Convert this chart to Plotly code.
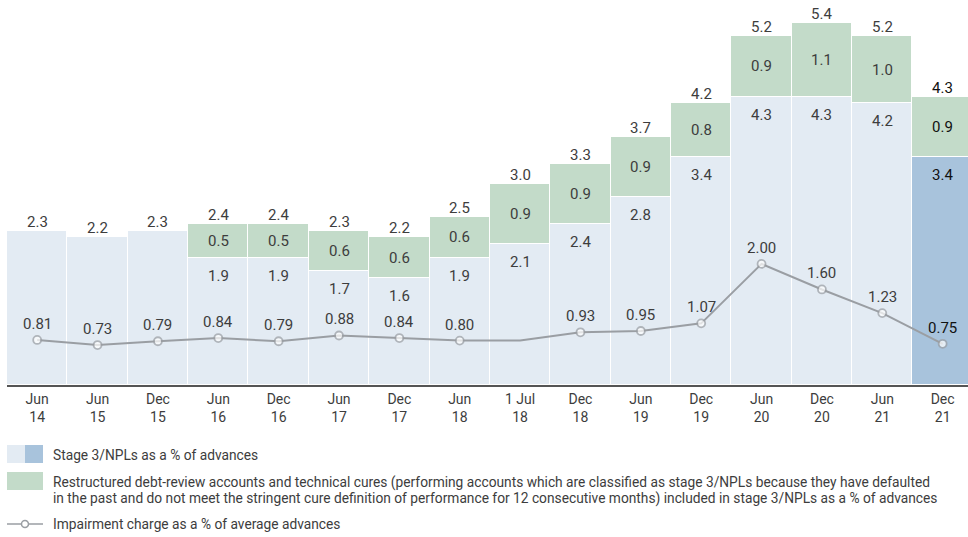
import plotly.graph_objects as go

categories = ["Jun<br>14", "Jun<br>15", "Dec<br>15", "Jun<br>16", "Dec<br>16", "Jun<br>17", "Dec<br>17",
              "Jun<br>18", "1 Jul<br>18", "Dec<br>18", "Jun<br>19", "Dec<br>19", "Jun<br>20", "Dec<br>20",
              "Jun<br>21", "Dec<br>21"]
stage3_base = [2.3, 2.2, 2.3, 1.9, 1.9, 1.7, 1.6, 1.9, 2.1, 2.4, 2.8, 3.4, 4.3, 4.3, 4.2, 3.4]
restructured = [0, 0, 0, 0.5, 0.5, 0.6, 0.6, 0.6, 0.9, 0.9, 0.9, 0.8, 0.9, 1.1, 1.0, 0.9]
totals = [2.3, 2.2, 2.3, 2.4, 2.4, 2.3, 2.2, 2.5, 3.0, 3.3, 3.7, 4.2, 5.2, 5.4, 5.2, 4.3]
impairment = [0.81, 0.73, 0.79, 0.84, 0.79, 0.88, 0.84, 0.80, 0.80, 0.93, 0.95, 1.07, 2.00, 1.60, 1.23, 0.75]
impairment_labels = ["0.81", "0.73", "0.79", "0.84", "0.79", "0.88", "0.84", "0.80", "", "0.93", "0.95",
                     "1.07", "2.00", "1.60", "1.23", "0.75"]

FONT = "Roboto, Arial, sans-serif"
TXT = "#3d3d3d"
DARK = "#111111"
LIGHT_BLUE = "#e3ebf3"
DARK_BLUE = "#a8c3dc"
GREEN = "#c3dbc9"
LINE = "#9a9ea3"

n = len(categories)
x = list(range(n))
base_colors = [LIGHT_BLUE] * (n - 1) + [DARK_BLUE]

fig = go.Figure()
fig.add_trace(go.Bar(x=x, y=stage3_base, marker=dict(color=base_colors, line=dict(color="white", width=1.5)),
                     width=1.0, hoverinfo="skip", showlegend=False))
fig.add_trace(go.Bar(x=x, y=restructured, marker=dict(color=GREEN, line=dict(color="white", width=1.5)),
                     width=1.0, hoverinfo="skip", showlegend=False))
marker_sizes = [0 if lbl == "" else 8 for lbl in impairment_labels]
fig.add_trace(go.Scatter(x=x, y=impairment, yaxis="y2", mode="lines+markers",
                         line=dict(color=LINE, width=2),
                         marker=dict(size=marker_sizes, color="white", line=dict(color=LINE, width=1.8)),
                         hoverinfo="skip", showlegend=False))

annotations = []
for i in range(n):
    col = DARK if i == n - 1 else TXT
    annotations.append(dict(x=i, y=totals[i], xref="x", yref="y", text=f"{totals[i]:.1f}", showarrow=False,
                            yshift=9, yanchor="middle", font=dict(family=FONT, size=15, color=col)))
    if restructured[i] > 0:
        annotations.append(dict(x=i, y=stage3_base[i] + restructured[i] / 2, xref="x", yref="y",
                                text=f"{restructured[i]:.1f}", showarrow=False, yanchor="middle",
                                font=dict(family=FONT, size=15, color=col)))
        annotations.append(dict(x=i, y=stage3_base[i], xref="x", yref="y", text=f"{stage3_base[i]:.1f}",
                                showarrow=False, yshift=-18, yanchor="middle",
                                font=dict(family=FONT, size=15, color=col)))
    if impairment_labels[i]:
        annotations.append(dict(x=i, y=impairment[i], xref="x", yref="y2", text=impairment_labels[i],
                                showarrow=False, yshift=16, yanchor="middle",
                                font=dict(family=FONT, size=15, color=col)))

# legend (drawn manually)
H = 385.0
W = 961.0
def py(ypx):
    return (H - ypx) / H
def px(xpx):
    return (xpx - 7) / W

shapes = [
    dict(type="rect", xref="paper", yref="paper", x0=px(7), x1=px(25), y0=py(463), y1=py(445),
         fillcolor=LIGHT_BLUE, line=dict(width=0)),
    dict(type="rect", xref="paper", yref="paper", x0=px(25), x1=px(43), y0=py(463), y1=py(445),
         fillcolor=DARK_BLUE, line=dict(width=0)),
    dict(type="rect", xref="paper", yref="paper", x0=px(7), x1=px(43), y0=py(490), y1=py(472),
         fillcolor=GREEN, line=dict(width=0)),
    dict(type="line", xref="paper", yref="paper", x0=px(7), x1=px(43), y0=py(524), y1=py(524),
         line=dict(color=LINE, width=1.5)),
    dict(type="circle", xref="paper", yref="paper", x0=px(21.5), x1=px(28.5), y0=py(527.5), y1=py(520.5),
         fillcolor="white", line=dict(color=LINE, width=1.5)),
]
legend_texts = [
    ("Stage 3/NPLs as a % of advances", 455),
    ("Restructured debt-review accounts and technical cures (performing accounts which are classified as stage 3/NPLs because they have defaulted", 483),
    ("in the past and do not meet the stringent cure definition of performance for 12 consecutive months) included in stage 3/NPLs as a % of advances", 498),
    ("Impairment charge as a % of average advances", 524),
]
for t, yy in legend_texts:
    annotations.append(dict(x=px(51), y=py(yy), xref="paper", yref="paper", text=t, showarrow=False,
                            xanchor="left", yanchor="middle", font=dict(family=FONT, size=13.75, color=TXT)))

fig.update_layout(
    width=968, height=537,
    margin=dict(l=7, r=0, t=0, b=152),
    barmode="stack", bargap=0,
    plot_bgcolor="white", paper_bgcolor="white",
    xaxis=dict(range=[-0.5, n - 0.58], tickvals=x, ticktext=categories, showgrid=False, zeroline=False,
               showline=True, linecolor="#555555", linewidth=2, ticks="",
               tickfont=dict(family=FONT, size=14, color=TXT), fixedrange=True),
    yaxis=dict(range=[0, 5.74], visible=False, showgrid=False, zeroline=False, fixedrange=True),
    yaxis2=dict(range=[0.105, 6.13], overlaying="y", visible=False, showgrid=False, zeroline=False),
    annotations=annotations,
    shapes=shapes,
)

fig.write_html("out.html", config={"displayModeBar": False},
               post_script="document.body.style.margin='0';document.body.style.padding='0';document.body.style.overflow='hidden';")
